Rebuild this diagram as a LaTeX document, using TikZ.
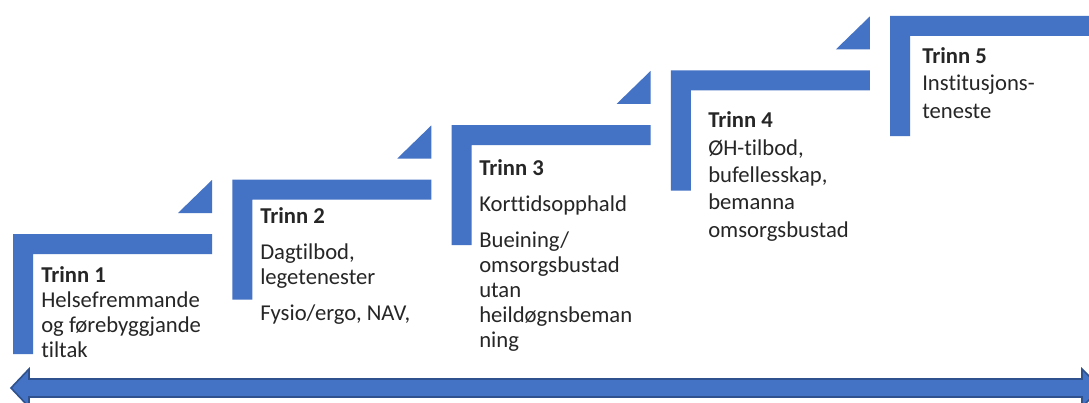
\documentclass[tikz,border=0pt]{standalone}
\usepackage{fontspec}
\setmainfont{Carlito}[Ligatures=NoCommon]
\definecolor{stepblue}{HTML}{4472C4}
\definecolor{edgeblue}{HTML}{2F528F}
\definecolor{textgray}{HTML}{262626}

\begin{document}
\begin{tikzpicture}[
    x=0.75pt, y=-0.75pt,
    stepbar/.style={fill=stepblue},
    steptext/.style={anchor=base west, inner sep=0pt, align=left, text=textgray, font=\fontsize{17}{18.75}\selectfont},
    widetext/.style={steptext, font=\fontsize{17}{20.5}\selectfont},
    scale arrow/.style={fill=stepblue, draw=edgeblue, line width=1.2pt, line join=miter}
]

% Canvas (clips the cut-off ends on the right)
\clip (0,0) rectangle (1089,403);
\fill[white] (0,0) rectangle (1089,403);

% Steps: L-shaped bar, triangle above its right end
\foreach \i in {0,...,4} {
  \pgfmathsetmacro{\L}{13+219.25*\i}
  \pgfmathsetmacro{\T}{234-54.5*\i}
  \fill[stepbar] (\L,\T) -- ++(199,0) -- ++(0,20) -- ++(-179,0) -- ++(0,100) -- ++(-20,0) -- cycle;
  \ifnum\i<4
    \fill[stepbar] (\L+199,\T-54) -- (\L+199,\T-21) -- (\L+165,\T-21) -- cycle;
  \fi
}

% Step texts (placed at the baseline of their last line)
\node[steptext] (trinn1) at (41,357) {\textbf{Trinn 1}\\Helsefremmande\\og førebyggjande\\tiltak};
\node[steptext] (trinn2) at (260,320) {\textbf{Trinn 2}\\[8pt]Dagtilbod,\\legetenester\\[8pt]Fysio/ergo, NAV,};
\node[steptext] (trinn3) at (479,347) {\textbf{Trinn 3}\\[8pt]Korttidsopphald\\[8pt]Bueining/\\omsorgsbustad\\utan\\heildøgnsbeman\\ning};
\node[widetext] (trinn4) at (708,237) {\textbf{Trinn 4}\\ØH-tilbod,\\bufellesskap,\\bemanna\\omsorgsbustad};
\node[widetext] (trinn5) at (922,118) {\textbf{Trinn 5}\\Institusjons-\\teneste};

% Double arrow along the bottom
\path[scale arrow] (11,388) -- (29,369) -- (29,379) -- (1082,379) -- (1082,369)
  -- (1101,388) -- (1082,407) -- (1082,397) -- (29,397) -- (29,407) -- cycle;

\end{tikzpicture}
\end{document}
